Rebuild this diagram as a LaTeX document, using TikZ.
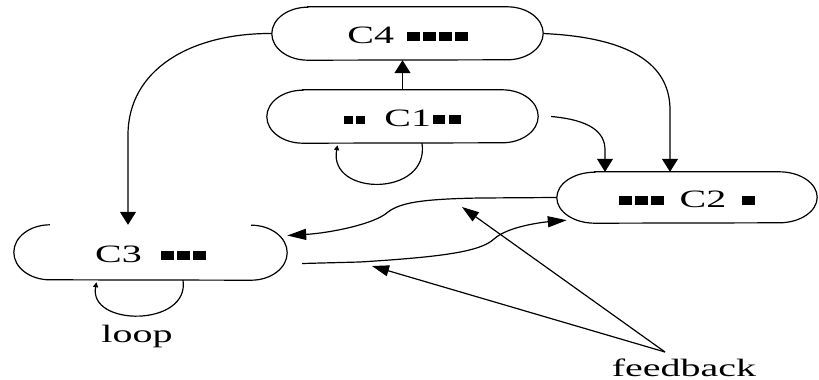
\documentclass[tikz,border=0pt]{standalone}
\usepackage{fontspec}
\setmainfont{Liberation Serif}
\usepackage{graphicx}
\usetikzlibrary{arrows.meta}
\newcommand\sqb{\rule[2pt]{8pt}{9pt}}
\newcommand\sqs{\rule[2pt]{6pt}{8pt}}
\newcommand\hx[1]{\scalebox{1.6}[1]{#1}}
\tikzset{
 outl/.style={line width=1.2pt},
 conn/.style={line width=1.2pt},
 tipV/.style={-{Triangle[length=13pt,width=16pt]}},
 tipH/.style={-{Triangle[length=19pt,width=11pt]}},
 tipF/.style={-{Triangle[length=17pt,width=11pt]}},
 tipS/.style={-{Triangle[length=5pt,width=5pt]}},
 box/.style={inner sep=0pt, text height=19pt, text depth=0pt, font=\fontsize{25}{30}\selectfont},
 lbl/.style={inner sep=0pt, font=\fontsize{25}{30}\selectfont},
}
\newcommand\stadium[3]{%
  \draw[outl] ([xshift=#2pt]#1.north west) -- ([xshift=-#2pt]#1.north east)
    arc[start angle=-90,end angle=90,x radius=#2,y radius=#3]
    -- ([xshift=#2pt]#1.south west)
    arc[start angle=90,end angle=270,x radius=#2,y radius=#3] -- cycle;}
\begin{document}
\begin{tikzpicture}[x=1pt,y=-1pt]
\useasboundingbox (0,0) rectangle (819,380);
\node[box, minimum width=271pt, minimum height=53pt] (c4) at (407.5,33.5)
  {\hx{C4\hspace{8pt}\sqb\hspace{2pt}\sqb\hspace{2pt}\sqb\hspace{2pt}\sqb}};
\node[box, minimum width=271pt, minimum height=53pt] (c1) at (402.5,116.5)
  {\hx{\sqs\hspace{1.5pt}\sqs\hspace{12pt}C1\hspace{1pt}\sqb\hspace{2pt}\sqb}};
\node[box, minimum width=260pt, minimum height=51pt] (c2) at (687,197.5)
  {\hx{\sqb\hspace{2pt}\sqb\hspace{2pt}\sqb\hspace{10pt}C2\hspace{10pt}\sqb}};
\node[box, minimum width=273pt, minimum height=55pt] (c3) at (150.5,252.5)
  {\hx{C3\hspace{12pt}\sqb\hspace{2pt}\sqb\hspace{2pt}\sqb}};
\stadium{c4}{36}{26.5}
\stadium{c1}{36}{26.5}
\stadium{c2}{38}{25.5}
\draw[outl] ([xshift=36pt]c3.north west) arc[start angle=270,end angle=90,x radius=36,y radius=27.5]
  -- ([xshift=-36pt]c3.south east) arc[start angle=90,end angle=-90,x radius=36,y radius=27.5];
% connectors
\draw[conn,tipV] (c1.north) -- (c1.north |- c4.south);
\draw[conn,tipV] (c4.west) .. controls (190,33) and (128,70) .. (128,135) -- ([xshift=-22.5pt]c3.north);
\draw[conn,tipV] (c4.east) .. controls (640,38) and (670,70) .. (670,110) -- ([xshift=-17pt]c2.north);
\draw[conn,tipV] ([xshift=13pt]c1.east) .. controls (590,120) and (605,132) .. (605,150) -- ([xshift=-82pt]c2.north);
\draw[conn,tipH] (c2.west) -- (480,198) .. controls (420,199) and (400,203) .. (388,212)
  .. controls (375,224) and (330,233) .. ([yshift=17pt]c3.east);
\draw[conn,tipH] ([xshift=15pt,yshift=-11pt]c3.east) -- (360,262) .. controls (440,257) and (480,252) .. (494,239)
  .. controls (508,226) and (545,222) .. ([xshift=10pt,yshift=3pt]c2.south west);
% loops
\draw[conn,tipS] ([xshift=19.5pt]c1.south) .. controls (430,197) and (328,197) .. ([xshift=-65pt,yshift=-2pt]c1.south);
\draw[conn,tipS] ([xshift=32.5pt]c3.south) .. controls (190,327) and (88,327) .. ([xshift=-54pt,yshift=-2pt]c3.south);
% feedback
\coordinate (fb) at (665,352);
\coordinate (fa) at (462,207);
\coordinate (fc) at (372,266);
\draw[conn,tipF] (fb) -- (fa);
\draw[conn,tipF] (fb) -- (fc);
\node[lbl, anchor=base] (looplbl) at (137,342) {\hx{loop}};
\node[lbl, anchor=base] (fblbl) at (684,376) {\hx{feedback}};
\end{tikzpicture}
\end{document}
